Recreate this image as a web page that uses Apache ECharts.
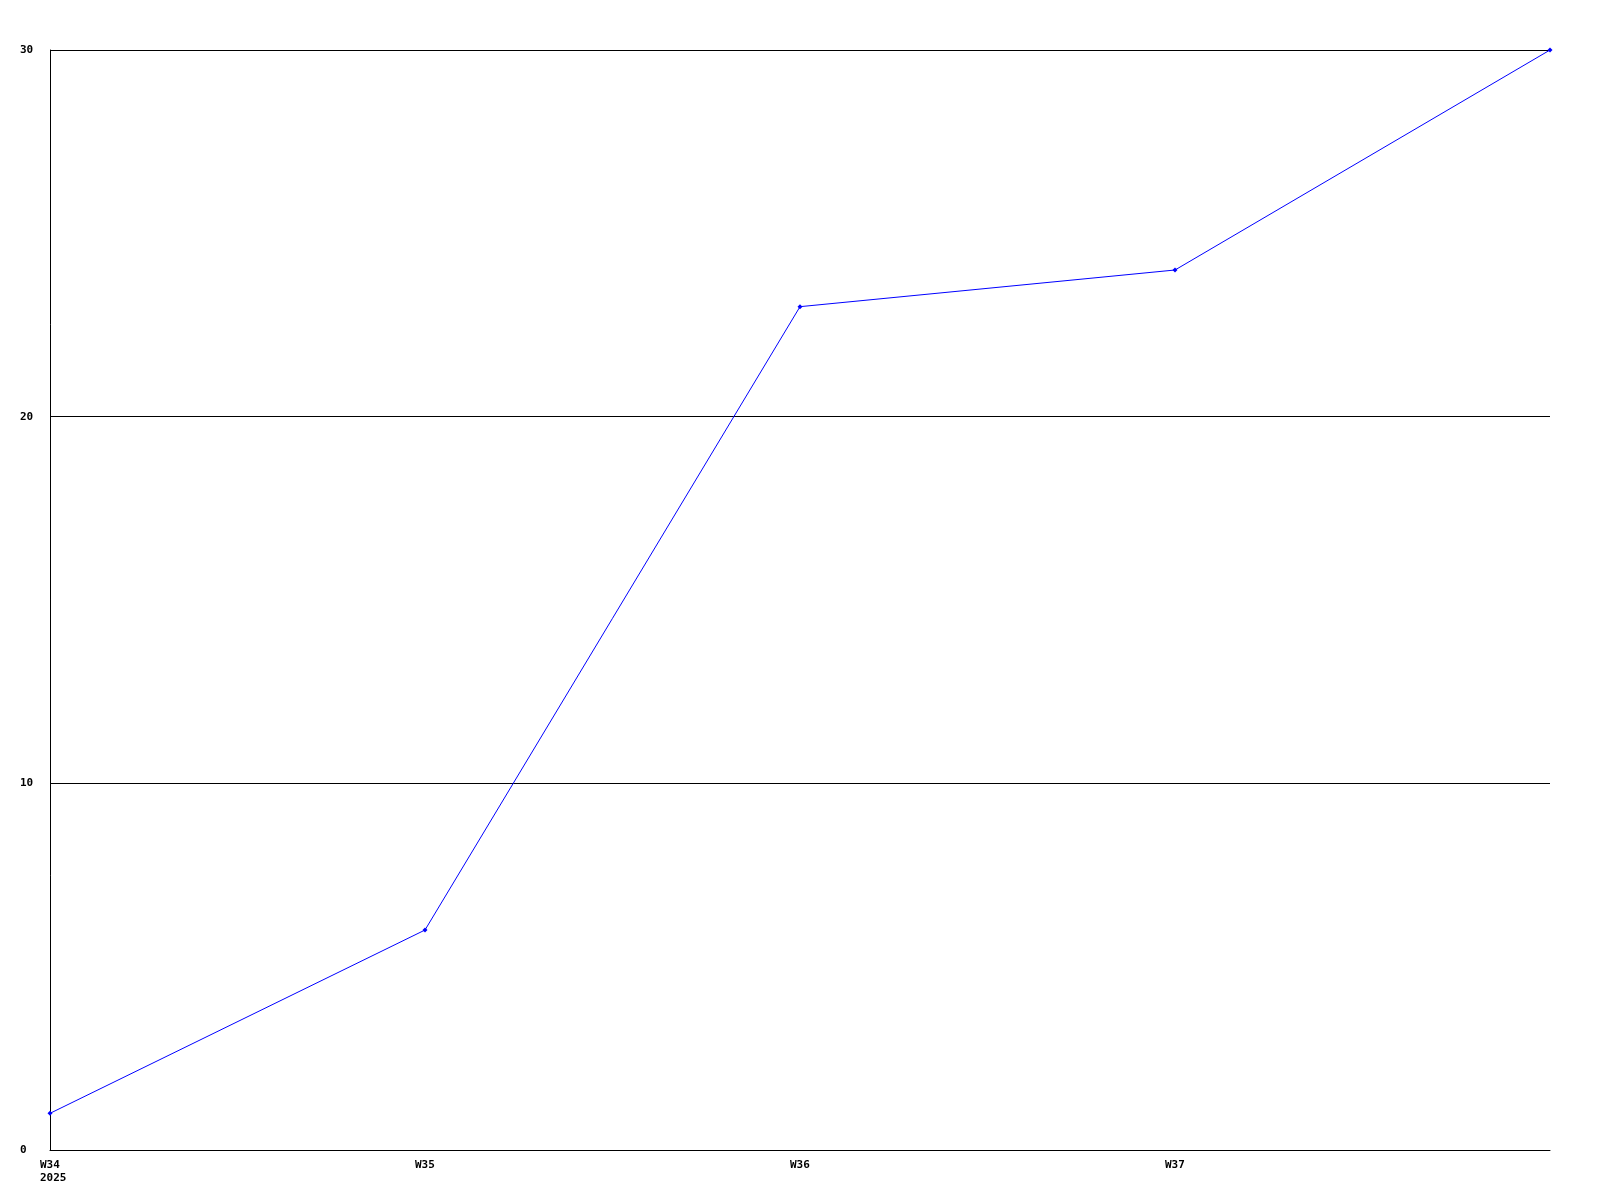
<!DOCTYPE html>
<html>
<head>
<meta charset="utf-8">
<script src="https://cdn.jsdelivr.net/npm/echarts@6/dist/echarts.min.js"></script>
<style>
html,body{margin:0;padding:0;background:#fff;}
#chart{width:1600px;height:1200px;}
</style>
</head>
<body>
<div id="chart"></div>
<script>
const categories = ['W34', 'W35', 'W36', 'W37', 'W38'];
const yearLabel = '2025';
const values = [1, 6, 23, 24, 30];
const yTicks = { min: 0, max: 30, interval: 10 };

const chart = echarts.init(document.getElementById('chart'), null, { renderer: 'canvas' });
const font = 'DejaVu Sans Mono';
chart.setOption({
  animation: false,
  backgroundColor: '#ffffff',
  grid: { left: 50, right: 50, top: 50, bottom: 50, containLabel: false },
  xAxis: {
    type: 'category',
    data: categories,
    boundaryGap: false,
    axisLine: { show: true, lineStyle: { color: '#000', width: 1 } },
    axisTick: { show: false },
    splitLine: { show: false },
    axisLabel: {
      margin: 9,
      interval: 0,
      formatter: function (v, i) {
        if (i === categories.length - 1) return '';
        return i === 0 ? '{a|' + v + '}\n{a|' + yearLabel + '}' : '{a|' + v + '}';
      },
      rich: {
        a: { width: 20, align: 'left', fontFamily: font, fontWeight: 'bold', fontSize: 11, color: '#000', lineHeight: 13 }
      }
    }
  },
  yAxis: {
    type: 'value',
    min: yTicks.min, max: yTicks.max, interval: yTicks.interval,
    axisLine: { show: true, lineStyle: { color: '#000', width: 1 } },
    axisTick: { show: false },
    splitLine: { show: true, lineStyle: { color: '#000', width: 1 } },
    axisLabel: {
      margin: 30, align: 'left',
      fontFamily: font, fontWeight: 'bold', fontSize: 11, color: '#000'
    }
  },
  series: [{
    type: 'line',
    data: values,
    symbol: 'diamond',
    symbolSize: 5,
    showAllSymbol: true,
    lineStyle: { color: '#0000ff', width: 1 },
    itemStyle: { color: '#0000ff' }
  }]
});
</script>
</body>
</html>
